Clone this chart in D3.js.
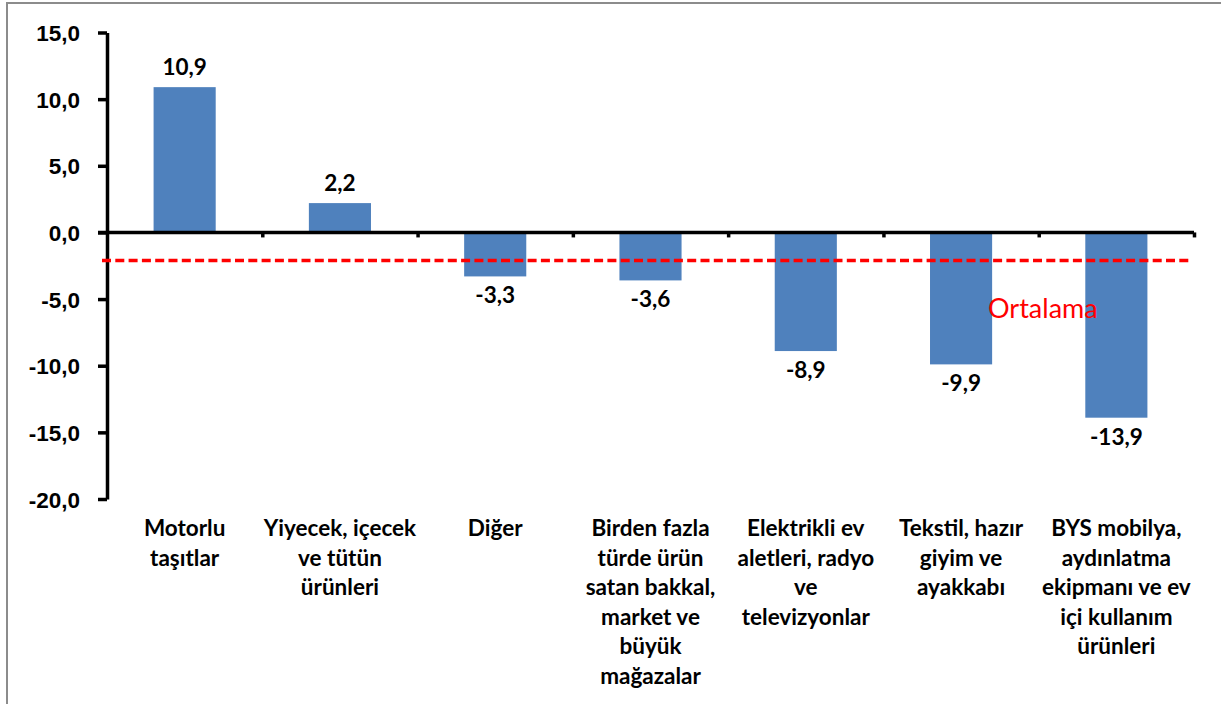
<!DOCTYPE html>
<html>
<head>
<meta charset="utf-8">
<script src="https://cdn.jsdelivr.net/npm/d3@7"></script>
<style>
  body { margin: 0; background: #fff; }
  svg { display: block; font-family: Lato, "Open Sans", sans-serif; }
</style>
</head>
<body>
<div id="chart"></div>
<script>
// category labels, already split into lines the way the chart wraps them
var categories = [
  ["Motorlu", "taşıtlar"],
  ["Yiyecek, içecek", "ve tütün", "ürünleri"],
  ["Diğer"],
  ["Birden fazla", "türde ürün", "satan bakkal,", "market ve", "büyük", "mağazalar"],
  ["Elektrikli ev", "aletleri, radyo", "ve", "televizyonlar"],
  ["Tekstil, hazır", "giyim ve", "ayakkabı"],
  ["BYS mobilya,", "aydınlatma", "ekipmanı ve ev", "içi kullanım", "ürünleri"]
];
var values = [10.9, 2.2, -3.3, -3.6, -8.9, -9.9, -13.9];
var average = -2.1;
var averageLabel = "Ortalama";
var yTicks = [15, 10, 5, 0, -5, -10, -15, -20];

var width = 1221,
  height = 704,
  margin = {top: 32.5, left: 107, right: 27, bottom: 205};

var fontSize = 22.5;

// decimal comma and a plain hyphen for negatives, like the source
var fmt = function (d) {
  return d3.format(".1f")(d).replace(".", ",").replace("\u2212", "-");
};

var svg = d3.select("#chart").append("svg")
  .attr("width", width)
  .attr("height", height);

// outer frame (right and bottom edges fall outside the picture)
svg.append("rect")
  .attr("x", 7)
  .attr("y", 3)
  .attr("width", width + 20)
  .attr("height", height + 20)
  .attr("fill", "none")
  .attr("stroke", "#8c8c8c")
  .attr("stroke-width", 2);

var x = d3.scaleBand()
  .domain(d3.range(values.length))
  .range([margin.left, width - margin.right]);

var xEdge = d3.scaleLinear()
  .domain([0, values.length])
  .range([margin.left, width - margin.right]);

var y = d3.scaleLinear()
  .domain([15, -20])
  .range([margin.top, height - margin.bottom]);

var barW = x.bandwidth() * 0.4;

// bars
svg.append("g").selectAll("rect")
  .data(values)
  .enter().append("rect")
  .attr("x", function (d, i) { return x(i) + (x.bandwidth() - barW) / 2; })
  .attr("y", function (d) { return y(Math.max(0, d)); })
  .attr("width", barW)
  .attr("height", function (d) { return Math.abs(y(d) - y(0)); })
  .attr("fill", "#4F81BD");

// y axis
var yAxis = svg.append("g")
  .attr("transform", "translate(" + margin.left + ",0)")
  .call(d3.axisLeft(y).tickValues(yTicks).tickSize(9).tickSizeOuter(0).tickPadding(18).tickFormat(fmt));
yAxis.select(".domain").attr("stroke-width", 3.5);
yAxis.selectAll(".tick line").attr("stroke-width", 3.5);
yAxis.selectAll(".tick text")
  .attr("font-size", fontSize)
  .attr("font-weight", "bold")
  .attr("fill", "#000")
  .attr("dy", "0.36em");

// x axis along zero, ticks between categories
var xAxis = svg.append("g")
  .attr("transform", "translate(0," + y(0) + ")")
  .call(d3.axisBottom(xEdge).tickValues(d3.range(1, values.length + 1)).tickSize(5).tickSizeOuter(0).tickFormat(""));
xAxis.select(".domain").attr("stroke-width", 3.5)
  .attr("d", "M" + (margin.left - 9) + ",0H" + (width - margin.right));
xAxis.selectAll(".tick line").attr("stroke-width", 3.5);

// average line
svg.append("line")
  .attr("x1", margin.left - 5)
  .attr("x2", width - margin.right - 2)
  .attr("y1", y(average))
  .attr("y2", y(average))
  .attr("stroke", "#FF0000")
  .attr("stroke-width", 3.5)
  .attr("stroke-dasharray", "9,4.3");

svg.append("text")
  .attr("x", 988)
  .attr("y", 318)
  .attr("font-size", 27)
  .attr("fill", "#FF0000")
  .text(averageLabel);

// value labels
svg.append("g").selectAll("text")
  .data(values)
  .enter().append("text")
  .attr("x", function (d, i) { return x(i) + x.bandwidth() / 2; })
  .attr("y", function (d) { return d >= 0 ? y(d) - 12 : y(d) + 27; })
  .attr("text-anchor", "middle")
  .attr("font-size", fontSize)
  .attr("font-weight", "bold")
  .text(fmt);

// category labels
var cat = svg.append("g").selectAll("text")
  .data(categories)
  .enter().append("text")
  .attr("text-anchor", "middle")
  .attr("font-size", fontSize)
  .attr("font-weight", "bold")
  .attr("transform", function (d, i) {
    return "translate(" + (x(i) + x.bandwidth() / 2) + ",536)";
  });

cat.selectAll("tspan")
  .data(function (d) { return d; })
  .enter().append("tspan")
  .attr("x", 0)
  .attr("y", function (d, j) { return j * 29.6; })
  .text(function (d) { return d; });
</script>
</body>
</html>
